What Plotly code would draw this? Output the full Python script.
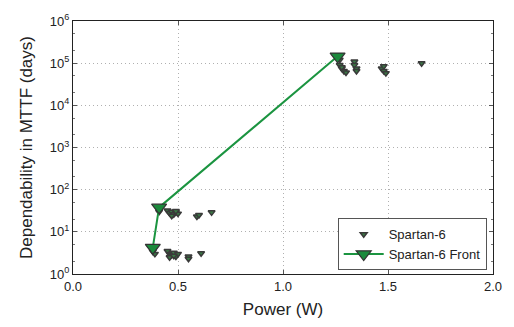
import plotly.graph_objects as go

# Spartan-6 design points: power (W) vs. MTTF (days)
spartan_power = [0.38, 0.38, 0.39, 0.41, 0.41,
                 0.45, 0.46, 0.47, 0.48, 0.49, 0.50, 0.47, 0.49,
                 0.59, 0.60, 0.66,
                 0.45, 0.46, 0.47, 0.48, 0.49, 0.50, 0.46, 0.48,
                 0.55, 0.55, 0.61,
                 1.27, 1.27, 1.28, 1.29, 1.30, 1.28,
                 1.34, 1.34, 1.35, 1.35,
                 1.47, 1.48, 1.49, 1.48,
                 1.66]
spartan_mttf = [4.2, 3.4, 3.0, 38, 30,
                32, 28, 30, 26, 29, 27, 24, 31,
                23, 25, 29,
                3.5, 3.0, 2.8, 3.2, 2.6, 3.0, 2.5, 2.7,
                2.6, 2.3, 3.1,
                1.2e5, 9e4, 7.5e4, 6.5e4, 6e4, 8e4,
                1.1e5, 9e4, 7.5e4, 6.5e4,
                7.5e4, 6.5e4, 5.8e4, 8.5e4,
                1.0e5]

# Pareto front
front_power = [0.38, 0.41, 1.26]
front_mttf = [4.2, 38, 1.45e5]

x_ticks = [0.0, 0.5, 1.0, 1.5, 2.0]
x_tick_text = ["0.0", "0.5", "1.0", "1.5", "2.0"]
y_ticks = [1, 10, 100, 1e3, 1e4, 1e5, 1e6]
y_tick_text = ["10<sup>%d</sup>" % k for k in range(7)]

font_family = "Liberation Sans, Arial, sans-serif"

fig = go.Figure()
fig.add_trace(go.Scatter(
    x=spartan_power, y=spartan_mttf, mode="markers", name="Spartan-6",
    marker=dict(symbol="triangle-down", size=6, color="#3a7a45",
                line=dict(color="#3a3a3a", width=1.5)),
))
fig.add_trace(go.Scatter(
    x=front_power, y=front_mttf, mode="lines+markers", name="Spartan-6 Front",
    line=dict(color="#1b9440", width=2),
    marker=dict(symbol="triangle-down", size=13, color="#1b8a3c",
                line=dict(color="#333333", width=1.2)),
))

fig.update_layout(
    width=514, height=327,
    margin=dict(l=73, r=21, t=14, b=51),
    paper_bgcolor="white", plot_bgcolor="white",
    font=dict(family=font_family, color="#222222"),
    showlegend=True,
    legend=dict(x=0.985, y=0.015, xanchor="right", yanchor="bottom",
                bgcolor="white", bordercolor="#555555", borderwidth=1,
                font=dict(size=13, family=font_family),
                tracegroupgap=0, itemwidth=40),
)
fig.update_xaxes(
    range=[0, 2], tickvals=x_ticks, ticktext=x_tick_text,
    showline=True, linecolor="#222222", linewidth=1, mirror="ticks",
    ticks="inside", ticklen=4, tickcolor="#555555",
    showgrid=True, gridcolor="#b0b0b0", griddash="1px,3px", gridwidth=1,
    zeroline=False,
    tickfont=dict(size=13),
    title=dict(text="Power (W)", font=dict(size=17), standoff=10),
)
fig.update_yaxes(
    type="log", range=[0, 6], tickvals=y_ticks, ticktext=y_tick_text,
    showline=True, linecolor="#222222", linewidth=1, mirror="ticks",
    ticks="inside", ticklen=4, tickcolor="#555555",
    minor=dict(ticks="inside", ticklen=2, tickcolor="#777777", showgrid=False),
    showgrid=True, gridcolor="#b0b0b0", griddash="1px,3px", gridwidth=1,
    tickfont=dict(size=13),
    title=dict(text="Dependability in MTTF (days)", font=dict(size=17), standoff=12),
)

fig.write_html("out.html")
